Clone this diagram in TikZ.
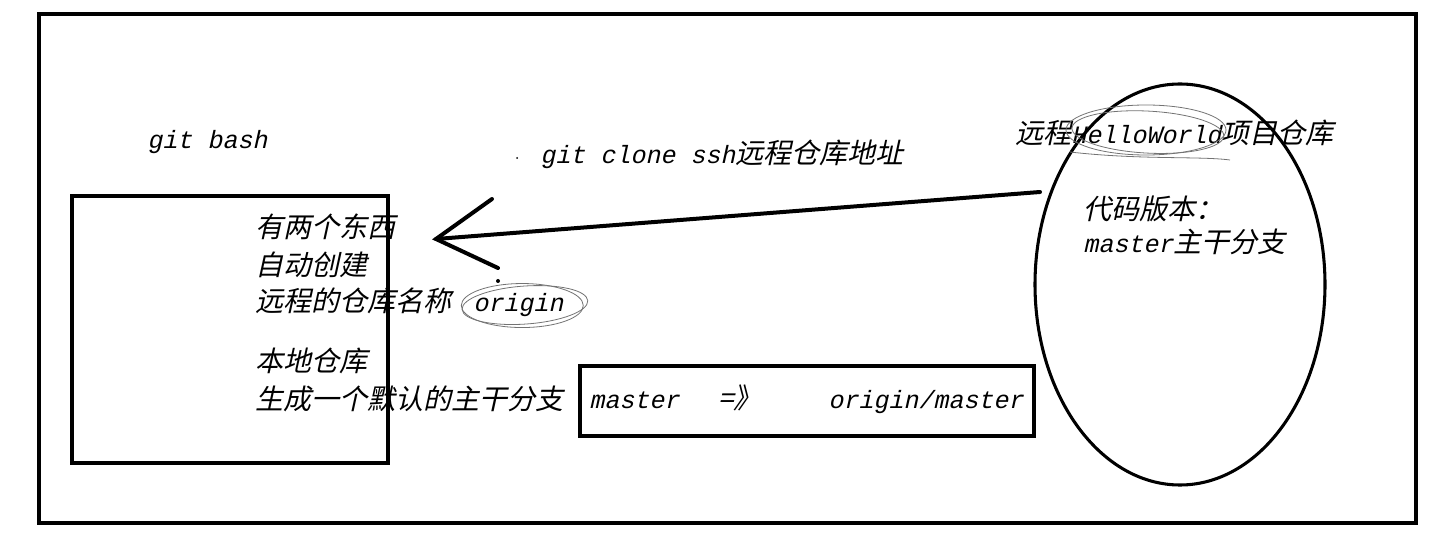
\documentclass[tikz,border=0pt]{standalone}
\usepackage{fontspec}
\newfontfamily\latfont[FakeSlant=0.22]{Liberation Mono}
\newfontfamily\cjkfont[FakeSlant=0.22,Scale=1.12]{Noto Sans CJK SC}
\newcommand\zh[1]{{\cjkfont #1}}
\begin{document}
\begin{tikzpicture}[x=0.75pt,y=-0.75pt,
  frame/.style={draw=black,line width=2.3pt},
  txt/.style={anchor=base west,inner sep=0pt,font=\fontsize{18.75pt}{22pt}\selectfont\latfont},
  scribble/.style={draw=black!55,line width=0.6pt},
  stroke/.style={draw=black,line width=3pt,line cap=round}]
\useasboundingbox (0,0) rectangle (1429,534);
% boxes
\draw[frame] (39,14) rectangle (1416,523);
\draw[frame] (72,196) rectangle (388,463);
\draw[frame] (580,366) rectangle (1034,436);
\draw[frame] (1180,284.5) ellipse [x radius=145, y radius=200.5];
% texts
\node[txt] (gb) at (147,149) {git bash};
\node[txt] (clone) at (540,164) {git clone ssh\zh{远程仓库地址}};
\node[txt] (remote) at (1015,144) {\zh{远程}HelloWorld\zh{项目仓库}};
\node[txt] (ver) at (1083,220) {\zh{代码版本：}};
\node[txt] (mst) at (1083,253) {master\zh{主干分支}};
\node[txt] (l1) at (255,238) {\zh{有两个东西}};
\node[txt] (l2) at (255,276) {\zh{自动创建}};
\node[txt] (l3) at (255,312) {\zh{远程的仓库名称}};
\node[txt] (orig) at (473,312) {origin};
\node[txt] (l4) at (255,372) {\zh{本地仓库}};
\node[txt] (l5) at (255,410) {\zh{生成一个默认的主干分支}};
\node[txt] (m1) at (589,409) {master};
\node[txt] (m2) at (718,409) {\zh{=》}};
\node[txt] (m3) at (828,409) {origin/master};
% arrow
\coordinate (tail) at (1040,192);
\coordinate (tip) at (436,239);
\coordinate (b1) at (492,199);
\coordinate (b2) at (498,268);
\draw[stroke] (tail) -- (tip);
\draw[stroke] (b1) -- (tip) -- (b2);
% scribbled ovals
\draw[scribble] ([xshift=3]orig.center) ellipse [x radius=61, y radius=22];
\draw[scribble,rotate around={4:(orig.center)}] ([xshift=5]orig.center) ellipse [x radius=63, y radius=19];
\draw[scribble] (1146,130) ellipse [x radius=80, y radius=25];
\draw[scribble,rotate around={-3:(1146,130)}] (1148,132) ellipse [x radius=76, y radius=21];
\draw[scribble] (1070,152) .. controls (1140,160) and (1200,156) .. (1230,160);
% specks
\fill (517,158) circle [radius=1];
\fill (498,281) circle [radius=2];
\end{tikzpicture}
\end{document}
